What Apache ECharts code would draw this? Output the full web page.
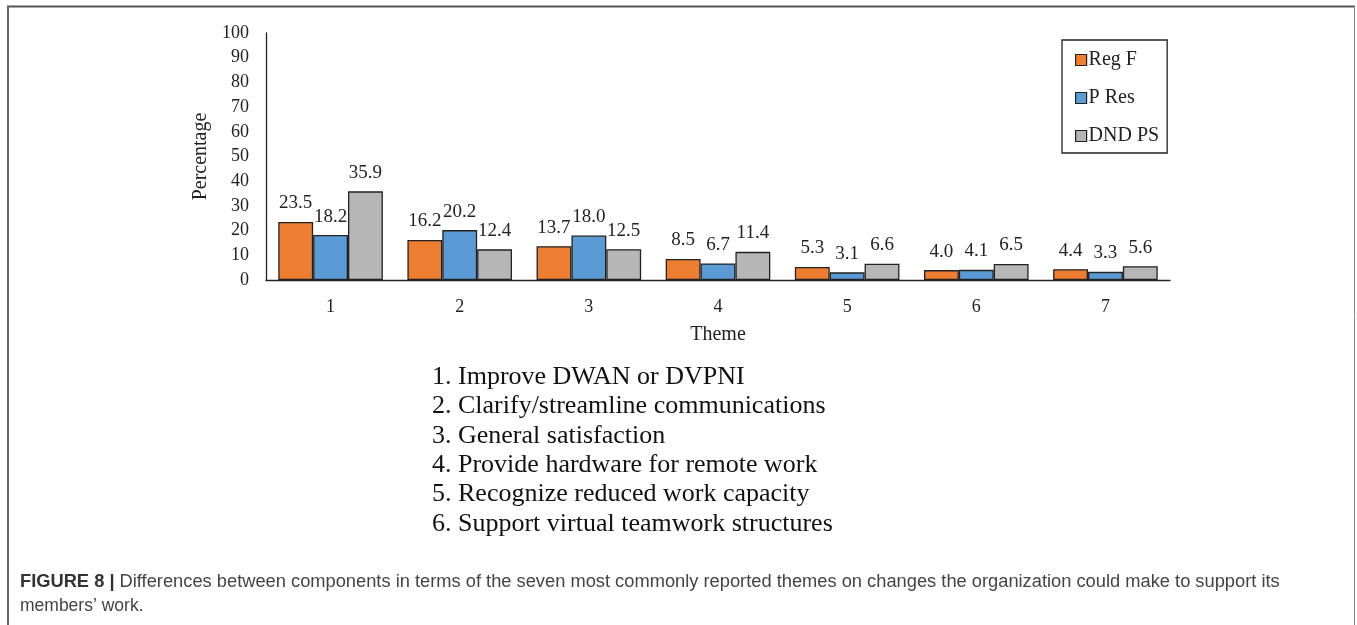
<!DOCTYPE html>
<html>
<head>
<meta charset="utf-8">
<script src="https://cdn.jsdelivr.net/npm/echarts@6/dist/echarts.min.js"></script>
<style>
  html, body { margin: 0; padding: 0; background: #fff; }
  #chart { width: 1357px; height: 625px; }
</style>
</head>
<body>
<div id="chart"></div>
<script>
// Themes on the x axis and the share of each component reporting them (%)
const themes = ['1', '2', '3', '4', '5', '6', '7'];
const regF  = [23.5, 16.2, 13.7, 8.5, 5.3, 4.0, 4.4];
const pRes  = [18.2, 20.2, 18.0, 6.7, 3.1, 4.1, 3.3];
const dndPS = [35.9, 12.4, 12.5, 11.4, 6.6, 6.5, 5.6];
const seriesNames = ['Reg F', 'P Res', 'DND PS'];
const yTicks = [0, 100, 10]; // min, max, interval

const themeKey = [
  '1. Improve DWAN or DVPNI',
  '2. Clarify/streamline communications',
  '3. General satisfaction',
  '4. Provide hardware for remote work',
  '5. Recognize reduced work capacity',
  '6. Support virtual teamwork structures'
];
const captionLead = 'FIGURE 8 |';
const captionRest1 = ' Differences between components in terms of the seven most commonly reported themes on changes the organization could make to support its';
const captionRest2 = 'members\u2019 work.';

const serif = '"Liberation Serif", "Times New Roman", serif';
const sans = '"Liberation Sans", Arial, Helvetica, sans-serif';
const colors = ['#ED7D31', '#5B9BD5', '#B6B6B6'];

function barSeries(name, data, color) {
  return {
    name: name,
    type: 'bar',
    data: data,
    barGap: '0%',
    barCategoryGap: '19%',
    itemStyle: { color: color, borderColor: '#222', borderWidth: 1.3 },
    label: {
      show: true,
      position: 'top',
      distance: 9,
      fontFamily: serif,
      fontSize: 19,
      color: '#222',
      formatter: p => p.value.toFixed(1)
    }
  };
}

const keyGraphics = themeKey.map((t, i) => ({
  type: 'text',
  left: 432,
  top: 364 + i * 29.4,
  style: { text: t, font: '26px ' + serif, fill: '#111' }
}));

const chart = echarts.init(document.getElementById('chart'), null, { renderer: 'canvas' });
chart.setOption({
  animation: false,
  color: colors,
  grid: { left: 266, right: 187, top: 33, bottom: 345, containLabel: false },
  legend: {
    orient: 'vertical',
    left: 1062,
    top: 40,
    padding: [10, 8, 7, 13],
    itemGap: 18,
    itemWidth: 11,
    itemHeight: 11,
    icon: 'rect',
    borderColor: '#222',
    borderWidth: 1.3,
    data: seriesNames,
    itemStyle: { borderColor: '#222', borderWidth: 1.2 },
    textStyle: { fontFamily: serif, fontSize: 20, color: '#222', lineHeight: 20, padding: [0, 0, 0, -3] }
  },
  xAxis: {
    type: 'category',
    data: themes,
    name: 'Theme',
    nameLocation: 'middle',
    nameGap: 45,
    nameTextStyle: { fontFamily: serif, fontSize: 20, color: '#222' },
    axisLine: { lineStyle: { color: '#222', width: 1.3 } },
    axisTick: { show: false },
    axisLabel: { fontFamily: serif, fontSize: 18, color: '#222', margin: 18 }
  },
  yAxis: {
    type: 'value',
    min: yTicks[0],
    max: yTicks[1],
    interval: yTicks[2],
    name: 'Percentage',
    nameLocation: 'middle',
    nameGap: 53,
    nameRotate: 90,
    nameTextStyle: { fontFamily: serif, fontSize: 20, color: '#222' },
    axisLine: { show: true, lineStyle: { color: '#222', width: 1.3 } },
    axisTick: { show: false },
    splitLine: { show: false },
    axisLabel: { fontFamily: serif, fontSize: 18, color: '#222', margin: 17 }
  },
  series: [
    barSeries(seriesNames[0], regF, colors[0]),
    barSeries(seriesNames[1], pRes, colors[1]),
    barSeries(seriesNames[2], dndPS, colors[2])
  ],
  graphic: [
    // figure frame
    { type: 'line', shape: { x1: 7, y1: 6.5, x2: 1355, y2: 6.5 }, style: { stroke: '#555', lineWidth: 2 } },
    { type: 'line', shape: { x1: 8, y1: 6, x2: 8, y2: 625 }, style: { stroke: '#666', lineWidth: 2 } },
    { type: 'line', shape: { x1: 1354.5, y1: 6, x2: 1354.5, y2: 625 }, style: { stroke: '#888', lineWidth: 1 } },
    ...keyGraphics,
    {
      type: 'text', left: 20, top: 573,
      style: {
        text: '{b|' + captionLead + '}{r|' + captionRest1 + '}',
        rich: {
          b: { font: 'bold 18.3px ' + sans, fill: '#333' },
          r: { font: '18.3px ' + sans, fill: '#444' }
        }
      }
    },
    {
      type: 'text', left: 20, top: 597,
      style: { text: captionRest2, font: '17.5px ' + sans, fill: '#444' }
    }
  ]
});
</script>
</body>
</html>
